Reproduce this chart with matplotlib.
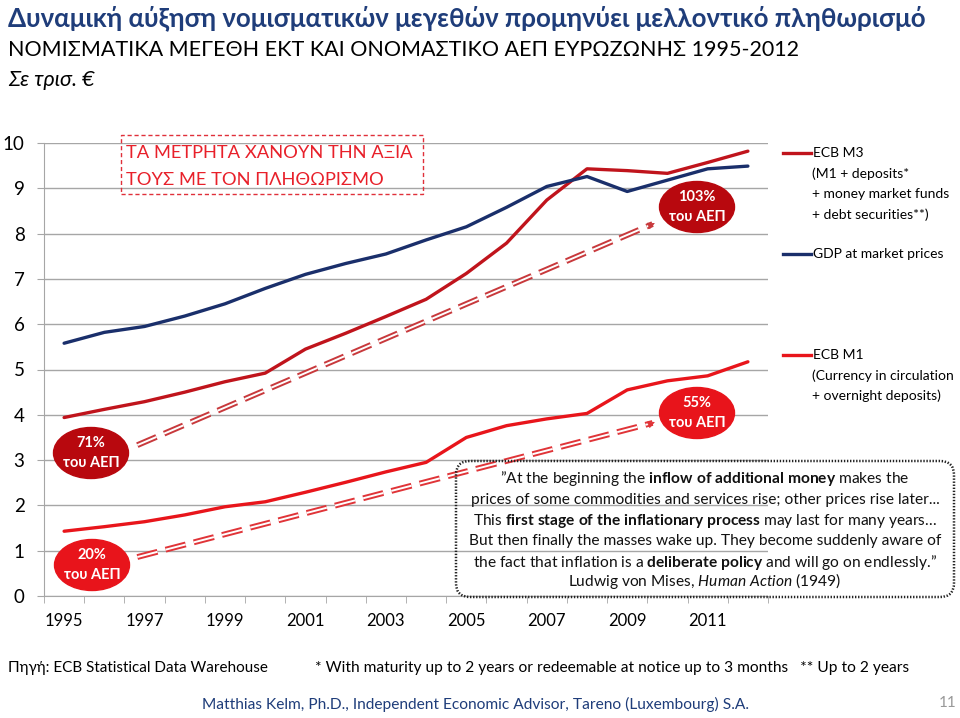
import matplotlib
matplotlib.use('Agg')
import matplotlib.pyplot as plt
from matplotlib.patches import Ellipse, FancyBboxPatch, Rectangle
from matplotlib.lines import Line2D
from matplotlib.transforms import IdentityTransform

plt.rcParams['font.family'] = ['Lato', 'Noto Sans', 'DejaVu Sans']
plt.rcParams['mathtext.fontset'] = 'custom'
plt.rcParams['mathtext.rm'] = 'Lato'
plt.rcParams['mathtext.bf'] = 'Lato:bold'
plt.rcParams['mathtext.it'] = 'Lato:italic'
plt.rcParams['lines.scale_dashes'] = False

# data (trillion EUR)
years = list(range(1995, 2013))
gdp = [5.58, 5.82, 5.95, 6.18, 6.45, 6.79, 7.10, 7.34, 7.55, 7.86,
       8.15, 8.58, 9.04, 9.26, 8.93, 9.18, 9.43, 9.49]
m3 = [3.94, 4.12, 4.29, 4.50, 4.73, 4.92, 5.45, 5.80, 6.17, 6.55,
      7.12, 7.79, 8.74, 9.43, 9.39, 9.33, 9.57, 9.82]
m1 = [1.43, 1.53, 1.64, 1.79, 1.97, 2.08, 2.29, 2.51, 2.74, 2.95,
      3.50, 3.76, 3.91, 4.03, 4.55, 4.75, 4.86, 5.17]
tick_years = list(range(1995, 2012, 2))
y_ticks = list(range(0, 11))

# trend arrows (start, end) in data coords
m3_arrow = [(1996.82, 3.33), (2009.63, 8.21)]
m1_arrow = [(1996.82, 0.86), (2009.63, 3.82)]

DARK_RED = '#C0141C'
RED = '#E8151B'
NAVY = '#1A2F6B'
GRID = '#A6A6A6'

W, H = 960, 718
fig = plt.figure(figsize=(W / 100, H / 100), dpi=100)
ax = fig.add_axes([44 / W, 1 - 596 / H, (768 - 44) / W, (596 - 143) / H])
PX = IdentityTransform()


def ftext(x, y, s, **kw):
    # text placed in pixel coords measured from the top left
    return fig.text(x, H - y, s, transform=PX, **kw)


ax.plot(years, m3, color=DARK_RED, lw=2.4, solid_capstyle='round', zorder=4)
ax.plot(years, gdp, color=NAVY, lw=2.4, solid_capstyle='round', zorder=4)
ax.plot(years, m1, color=RED, lw=2.4, solid_capstyle='round', zorder=4)

ax.set_xlim(1994.5, 2012.5)
ax.set_ylim(0, 10)
ax.set_yticks(y_ticks)
ax.set_xticks(tick_years)
ax.set_xticks([y - 0.5 for y in years] + [2012.5], minor=True)
ax.tick_params(axis='x', which='major', length=0, pad=12, labelsize=12)
ax.tick_params(axis='x', which='minor', length=5, color=GRID)
ax.tick_params(axis='y', length=5, color=GRID, labelsize=13.5, pad=9)
ax.grid(axis='y', color=GRID, lw=1)
ax.set_axisbelow(True)
for s in ['top', 'right']:
    ax.spines[s].set_visible(False)
for s in ['left', 'bottom']:
    ax.spines[s].set_color(GRID)
ax.set_facecolor('none')


def double_dash_arrow(pts, color):
    (x0, y0), (x1, y1) = pts
    ax.plot([x0, x1], [y0, y1], color=color, lw=4.2, dashes=(15, 6),
            solid_capstyle='butt', dash_capstyle='butt', zorder=3)
    ax.plot([x0, x1], [y0, y1], color='white', lw=1.4, dashes=(15, 6),
            dash_capstyle='butt', zorder=3)
    ax.annotate('', xy=(x1 + 0.12, y1 + 0.045), xytext=(x1 - 0.1, y1 - 0.04),
                arrowprops=dict(arrowstyle='-|>', color=color, lw=0.5,
                                mutation_scale=11), zorder=3)


double_dash_arrow(m3_arrow, '#C8393C')
double_dash_arrow(m1_arrow, '#E03438')

# bubbles
for cx, cy, col, top in [(91, 453, '#B8080E', '71%'), (92, 565, '#E8141B', '20%'),
                         (697, 207, '#B8080E', '103%'), (697, 413, '#E8141B', '55%')]:
    fig.add_artist(Ellipse((cx, H - cy), 75, 51, transform=PX, color=col, zorder=5))
    ftext(cx, cy - 10, top, ha='center', va='center', color='white',
          fontsize=10.5, fontweight='bold', zorder=6)
    ftext(cx, cy + 10, 'του ΑΕΠ', ha='center', va='center', color='white',
          fontsize=10.5, fontweight='bold', zorder=6)

# red dashed note box
fig.add_artist(Rectangle((121, H - 194), 302, 59, transform=PX, fill=False,
                         ec='#E0303A', lw=1, ls=(0, (3, 2))))
ftext(126, 153, 'ΤΑ ΜΕΤΡΗΤΑ ΧΑΝΟΥΝ ΤΗΝ ΑΞΙΑ', va='center', color='#E8202A', fontsize=13.2)
ftext(126, 180, 'ΤΟΥΣ ΜΕ ΤΟΝ ΠΛΗΘΩΡΙΣΜΟ', va='center', color='#E8202A', fontsize=13.2)

# legend on the right
legend_rows = [
    (153, DARK_RED, ['ECB M3', '(M1 + deposits*', '+ money market funds', '+ debt securities**)']),
    (254, NAVY, ['GDP at market prices']),
    (355, RED, ['ECB M1', '(Currency in circulation', '+ overnight deposits)']),
]
for y0, col, lines in legend_rows:
    fig.add_artist(Line2D([783, 811], [H - y0, H - y0], transform=PX, color=col, lw=2.4))
    ftext(813, y0, lines[0], va='center', fontsize=10)
    for i, s in enumerate(lines[1:]):
        ftext(812, y0 + 20.5 * (i + 1), s, va='center', fontsize=10)

# Mises quote
fig.add_artist(FancyBboxPatch((456, H - 597), 498, 136, transform=PX,
                              boxstyle='round,pad=0,rounding_size=14',
                              fill=False, ec='#222222', lw=1.8, ls=(0, (1, 1.2))))
quote = [
    r'”At the beginning the $\mathbf{inflow\ of\ additional\ money}$ makes the',
    'prices of some commodities and services rise; other prices rise later...',
    r'This $\mathbf{first\ stage\ of\ the\ inflationary\ process}$ may last for many years…',
    'But then finally the masses wake up. They become suddenly aware of',
    r'the fact that inflation is a $\mathbf{deliberate\ policy}$ and will go on endlessly.”',
    r'Ludwig von Mises, $\mathit{Human\ Action}$ (1949)',
]
quote_y = [478, 500, 521, 541, 562, 581]
for s, y in zip(quote, quote_y):
    ftext(705, y, s, ha='center', va='center', fontsize=11.2, color='#111111')

# titles
ftext(8, 18, 'Δυναμική αύξηση νομισματικών μεγεθών προμηνύει μελλοντικό πληθωρισμό',
      va='center', fontsize=18.6, fontweight='bold', color='#1F3D7A')
ftext(8, 50, 'ΝΟΜΙΣΜΑΤΙΚΑ ΜΕΓΕΘΗ ΕΚΤ ΚΑΙ ΟΝΟΜΑΣΤΙΚΟ ΑΕΠ ΕΥΡΩΖΩΝΗΣ 1995-2012',
      va='center', fontsize=15.5)
ftext(8, 80, 'Σε τρισ. €', va='center', fontsize=15.5, fontstyle='italic')

# footer
ftext(8, 668, 'Πηγή: ECB Statistical Data Warehouse', va='center', fontsize=11)
ftext(315, 668, '* With maturity up to 2 years or redeemable at notice up to 3 months   ** Up to 2 years',
      va='center', fontsize=11.2)
ftext(475, 704, 'Matthias Kelm, Ph.D., Independent Economic Advisor, Tareno (Luxembourg) S.A.',
      ha='center', va='center', fontsize=11.2, color='#1F3D7A')
ftext(948, 703, '11', ha='center', va='center', fontsize=11, color='#999999')

fig.savefig('out.png', dpi=100, facecolor='white')
